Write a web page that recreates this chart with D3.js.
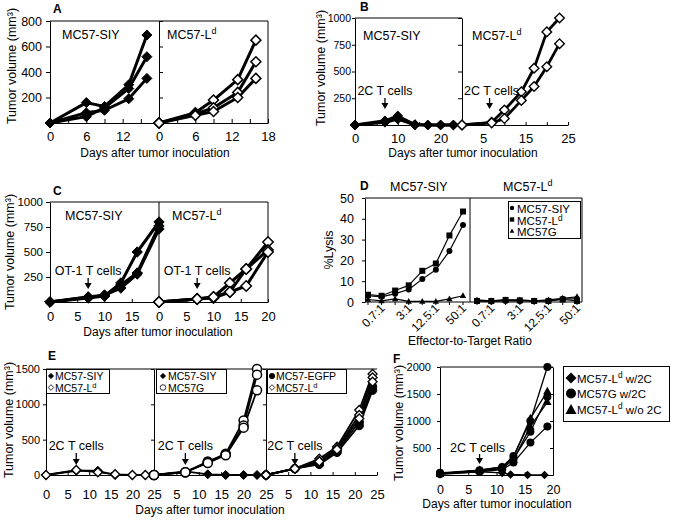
<!DOCTYPE html>
<html><head><meta charset="utf-8">
<script src="https://cdn.jsdelivr.net/npm/d3@7"></script>
<style>
body{margin:0;background:#fff;}
svg{display:block;}
</style></head><body>
<svg id="c" width="684" height="520"></svg>
<script>
// ================= DATA =================
// Panel A
const aDays = [0, 6, 9, 13, 16];
const aSIY = [[0,160,130,300,690],[0,50,120,270,520],[0,80,100,190,350]];
const aLd  = [[0,80,180,340,650],[0,70,120,240,480],[0,60,90,200,350]];
const aYTicks = [200,400,600,800];
const aXLabelsLeft = [0,6,12];
const aXLabelsRight = [0,6,12,18];
// Panel B
const bDays = [0,7,10,14,17,20,23];
const bSIY = [[0,40,85,5,0,0,0],[0,25,55,0,0,0,0]];
const bLd  = [[0,25,140,310,530,870,1000],[0,20,60,230,360,545,760]];
const bYTicks = [250,500,750,1000];
const bXLabelsLeft = [0,10,20];
const bXLabelsRight = [5,15,25];
const bArrowDays = [7, 6.5];
// Panel C
const cDays = [0,7,10,13,16,20];
const cSIY = [[0,50,60,190,500,800],[0,50,70,140,280,730],[0,40,60,170,290,760]];
const cLd  = [[0,30,50,190,330,600],[0,30,40,100,330,520],[0,30,50,100,160,500]];
const cYTicks = [250,500,750,1000];
const cXLabelsLeft = [0,5,10,15];
const cXLabelsRight = [0,5,10,15,20];
const cArrowDays = [7, 7];
// Panel D
const dRatios = ["0.35:1","0.7:1","1.5:1","3:1","6.25:1","12.5:1","25:1","50:1"];
const dRatioLabels = ["0.7:1","3:1","12.5:1","50:1"];
const dLeftSIY = [3,2.5,4,6,11,15.5,24.5,37];
const dLeftLd  = [3.5,3,5.5,8,15,18.5,32,43.5];
const dLeftG   = [1.2,0.5,1.5,0.3,0.3,0.3,1.5,3];
const dRightSIY = [0.5,0.3,0.5,0.5,0.5,0.5,1.5,1.5];
const dRightLd  = [0.5,0.5,1,0.8,0.5,0.5,1.2,0.5];
const dRightG   = [1,0.5,1,1,0.5,1,1.8,2.5];
const dYTicks = [0,10,20,30,40,50];
// Panel E
const eDays1 = [0,7,12,16,20,23];
const eSIY1 = [0,60,60,0,0,0];
const eLd1  = [0,70,40,10,0,0];
const eDays2 = [0,7,12,16,20,23];
const eSIY2 = [0,50,10,0,0,0];
const eG2 = [[0,40,190,300,770,1500],[0,40,180,290,700,1420],[0,40,170,280,670,1200]];
const eDays3 = [0,6.5,12,16,21,24];
const eEGFP3 = [[0,90,150,320,700,1200],[0,90,160,340,750,1250]];
const eLd3 = [[0,90,230,400,920,1430],[0,90,200,380,850,1380],[0,90,190,360,800,1320]];
const eYTicks = [0,500,1000,1500];
const eXLabels1 = [0,5,10,15,20,25];
const eXLabels23 = [5,10,15,20,25];
const eArrowDays = [7, 7, 6.5];
// Panel F
const fDays = [0,7,11,13,16,19];
const fDiamondDays = [0,7,11,12.5,15.5,18.5];
const fLdW2C = [10,60,40,10,0,0];
const fGW2C = [[40,90,150,350,1000,2000],[30,80,120,300,800,1450],[20,60,100,230,600,900]];
const fLdWo2C = [[20,90,150,330,1050,1550],[30,80,130,280,900,1350]];
const fYTicks = [0,500,1000,1500,2000];
const fXLabels = [0,5,10,15,20];
const fArrowDay = 7;

// ================= DRAWING =================
const FONT = '"Liberation Sans", Arial, Helvetica, sans-serif';
const svg = d3.select('#c').attr('font-family', FONT);
const plain = d => String(d);

function shapePath(shape, r){
  switch(shape){
    case 'diamond': return `M0,${-r}L${r},0L0,${r}L${-r},0Z`;
    case 'circle': return `M${r},0A${r},${r} 0 1,1 ${-r},0A${r},${r} 0 1,1 ${r},0Z`;
    case 'square': return `M${-r},${-r}H${r}V${r}H${-r}Z`;
    case 'triangle': return `M0,${-r*1.15}L${r*1.05},${r*0.75}L${-r*1.05},${r*0.75}Z`;
  }
}
function drawLines(x, y, xs, list, lw){
  const line = d3.line().x((d,i)=>x(xs[i])).y(d=>y(d));
  list.forEach(vals => svg.append('path').attr('d', line(vals)).attr('fill','none')
    .attr('stroke','#000').attr('stroke-width',lw).attr('stroke-linejoin','round'));
}
function drawMarks(x, y, xs, list, shape, r, fill, sw){
  list.forEach(vals => svg.append('g').selectAll('path').data(vals).join('path')
    .attr('transform',(d,i)=>`translate(${x(xs[i])},${y(d)})`)
    .attr('d', shapePath(shape,r)).attr('fill',fill).attr('stroke','#000').attr('stroke-width',sw));
}
function hline(x1,x2,y,w=1){ svg.append('line').attr('x1',x1).attr('x2',x2).attr('y1',y).attr('y2',y).attr('stroke','#000').attr('stroke-width',w); }
function vline(x,y1,y2,w=1){ svg.append('line').attr('x1',x).attr('x2',x).attr('y1',y1).attr('y2',y2).attr('stroke','#000').attr('stroke-width',w); }
function axisG(gen, tx, ty, fs){
  const g = svg.append('g').attr('transform',`translate(${tx},${ty})`).call(gen);
  g.attr('font-family',FONT).attr('font-size',fs||12);
  g.selectAll('.tick text').attr('fill','#000');
  g.selectAll('line,path').attr('stroke','#000');
  return g;
}
function txt(x,y,s,fs,anchor,bold){
  return svg.append('text').attr('x',x).attr('y',y).attr('font-size',fs||12)
    .attr('text-anchor',anchor||'start').attr('font-weight',bold?'bold':null).attr('fill','#000').text(s);
}
function supText(x,y,base,sup,rest,fs,anchor,up){
  const u = up || 5;
  const t = svg.append('text').attr('x',x).attr('y',y).attr('font-size',fs||12).attr('text-anchor',anchor||'start').attr('fill','#000');
  t.append('tspan').text(base);
  t.append('tspan').attr('dy',-u).attr('font-size','0.72em').text(sup);
  if(rest) t.append('tspan').attr('dy',u).text(rest);
  return t;
}
function yLabel(x,y,s,fs){
  svg.append('text').attr('transform',`translate(${x},${y}) rotate(-90)`).attr('text-anchor','middle')
    .attr('font-size',fs||12.5).attr('fill','#000').text(s);
}
function arrow(x,y1,y2){
  svg.append('line').attr('x1',x).attr('x2',x).attr('y1',y1).attr('y2',y2-5).attr('stroke','#000').attr('stroke-width',1.3);
  svg.append('path').attr('d',`M${x-3.5},${y2-6}L${x+3.5},${y2-6}L${x},${y2}Z`).attr('fill','#000');
}
function legendMark(x,y,shape,r,fill,sw){
  svg.append('path').attr('transform',`translate(${x},${y})`).attr('d',shapePath(shape,r)).attr('fill',fill).attr('stroke','#000').attr('stroke-width',sw);
}
const fmtOnly = list => d => list.includes(d) ? String(d) : '';

// ---------- Panel A ----------
{
  const y = d3.scaleLinear([0,800],[123,21]);
  const x1 = d3.scaleLinear([0,18],[50,159]);
  const x2 = d3.scaleLinear([0,18],[159,268]);
  axisG(d3.axisLeft(y).tickValues(aYTicks).tickFormat(plain).tickSize(4).tickPadding(4).tickSizeOuter(0),50,0,12.5);
  axisG(d3.axisLeft(y).tickValues(aYTicks).tickSize(-4).tickFormat('').tickSizeOuter(0),159,0);
  hline(50,268,21); vline(268,21,123);
  axisG(d3.axisBottom(x1).tickValues(d3.range(0,16,3)).tickSize(-4).tickPadding(9).tickSizeOuter(0).tickFormat(fmtOnly(aXLabelsLeft)),0,123,13);
  axisG(d3.axisBottom(x2).tickValues(d3.range(0,19,3)).tickSize(-4).tickPadding(9).tickSizeOuter(0).tickFormat(fmtOnly(aXLabelsRight)),0,123,13);
  drawLines(x1,y,aDays,aSIY,3);
  drawLines(x2,y,aDays,aLd,3);
  drawMarks(x1,y,aDays,aSIY,'diamond',5,'#000',1);
  drawMarks(x2,y,aDays,aLd,'diamond',5,'#fff',1.5);
  txt(53,13,'A',12,'start',true);
  txt(62,39,'MC57-SIY',12.5);
  supText(167,39,'MC57-L','d',null,12.5);
  yLabel(16,66,'Tumor volume (mm³)');
  txt(155,157,'Days after tumor inoculation',12,'middle');
}
// ---------- Panel B ----------
{
  const y = d3.scaleLinear([0,1000],[125,18]);
  const x1 = d3.scaleLinear([0,25],[355,462]);
  const x2 = d3.scaleLinear([0,25],[462,568]);
  axisG(d3.axisLeft(y).tickValues(bYTicks).tickFormat(plain).tickSize(3).tickPadding(1).tickSizeOuter(0),355,0,10.5);
  axisG(d3.axisLeft(y).tickValues(bYTicks).tickSize(4).tickFormat('').tickSizeOuter(0),462,0);
  hline(355,462,18);
  axisG(d3.axisBottom(x1).tickValues(d3.range(0,25,5)).tickSize(-3).tickPadding(9).tickSizeOuter(0).tickFormat(fmtOnly(bXLabelsLeft)),0,125,13);
  axisG(d3.axisBottom(x2).tickValues(d3.range(0,26,5)).tickSize(-3).tickPadding(9).tickSizeOuter(0).tickFormat(fmtOnly(bXLabelsRight)),0,125,13);
  drawLines(x1,y,bDays,bSIY,2.8);
  drawLines(x2,y,bDays,bLd,2.8);
  drawMarks(x1,y,bDays,bSIY,'diamond',4.8,'#000',1);
  drawMarks(x2,y,bDays,bLd,'diamond',4.8,'#fff',1.4);
  txt(360,11,'B',12,'start',true);
  txt(363,40,'MC57-SIY',12.5);
  supText(472,40,'MC57-L','d',null,12.5);
  txt(x1(bArrowDays[0]),95,'2C T cells',12.5,'middle');
  arrow(x1(bArrowDays[0]),98,109);
  txt(x2(bArrowDays[1])+2,95,'2C T cells',12.5,'middle');
  arrow(x2(bArrowDays[1]),98,109);
  yLabel(325,68,'Tumor volume (mm³)');
  txt(463,157,'Days after tumor inoculation',12,'middle');
}
// ---------- Panel C ----------
{
  const y = d3.scaleLinear([0,1000],[302,202]);
  const x1 = d3.scaleLinear([0,20],[50,159]);
  const x2 = d3.scaleLinear([0,20],[159,268]);
  axisG(d3.axisLeft(y).tickValues(cYTicks).tickFormat(plain).tickSize(4).tickPadding(3).tickSizeOuter(0),50,0,11.5);
  vline(159,202,302);
  hline(50,268,202); vline(268,202,302);
  axisG(d3.axisBottom(x1).tickValues(d3.range(0,20,5)).tickSize(-3).tickPadding(10).tickSizeOuter(0).tickFormat(fmtOnly(cXLabelsLeft)),0,302,13);
  axisG(d3.axisBottom(x2).tickValues(d3.range(0,21,5)).tickSize(-3).tickPadding(10).tickSizeOuter(0).tickFormat(fmtOnly(cXLabelsRight)),0,302,13);
  drawLines(x1,y,cDays,cSIY,3);
  drawLines(x2,y,cDays,cLd,3);
  drawMarks(x1,y,cDays,cSIY,'diamond',5.2,'#000',1);
  drawMarks(x2,y,cDays,cLd,'diamond',5.2,'#fff',1.5);
  txt(53,195,'C',12,'start',true);
  txt(65,220,'MC57-SIY',12.5);
  supText(172,220,'MC57-L','d',null,12.5);
  txt(x1(cArrowDays[0]),275,'OT-1 T cells',12.5,'middle');
  arrow(x1(cArrowDays[0]),278,289);
  txt(x2(cArrowDays[1]),275,'OT-1 T cells',12.5,'middle');
  arrow(x2(cArrowDays[1]),278,289);
  yLabel(14,252,'Tumor volume (mm³)');
  txt(158,336,'Days after tumor inoculation',12,'middle');
}
// ---------- Panel D ----------
{
  const y = d3.scaleLinear([0,50],[302,198]);
  const x1 = d3.scalePoint(dRatios,[368,463]);
  const x2 = d3.scalePoint(dRatios,[477,577]);
  axisG(d3.axisLeft(y).tickValues(dYTicks).tickFormat(plain).tickSize(3).tickPadding(8).tickSizeOuter(0),365,0,12.5);
  vline(470,198,302);
  hline(365,582,198); vline(582,198,302); hline(365,582,302);
  [x1,x2].forEach(x => {
    svg.append('g').selectAll('line').data(dRatios).join('line')
      .attr('x1',d=>x(d)).attr('x2',d=>x(d)).attr('y1',302).attr('y2',305).attr('stroke','#000');
    dRatioLabels.forEach(l => {
      svg.append('text').attr('transform',`translate(${x(l)+4},${309}) rotate(-45)`)
        .attr('text-anchor','end').attr('font-size',12).attr('fill','#000').text(l);
    });
  });
  drawLines(x1,y,dRatios,[dLeftSIY,dLeftLd,dLeftG],1.2);
  drawLines(x2,y,dRatios,[dRightSIY,dRightLd,dRightG],1.2);
  drawMarks(x1,y,dRatios,[dLeftSIY],'circle',3,'#000',0);
  drawMarks(x1,y,dRatios,[dLeftLd],'square',3,'#000',0);
  drawMarks(x1,y,dRatios,[dLeftG],'triangle',3,'#000',0);
  drawMarks(x2,y,dRatios,[dRightSIY],'circle',3,'#000',0);
  drawMarks(x2,y,dRatios,[dRightLd],'square',3,'#000',0);
  drawMarks(x2,y,dRatios,[dRightG],'triangle',3,'#000',0);
  // legend
  svg.append('rect').attr('x',508.5).attr('y',201.5).attr('width',72).attr('height',37).attr('fill','#fff').attr('stroke','#000');
  legendMark(512,208,'circle',2.2,'#000',0); txt(517,212.5,'MC57-SIY',11.5);
  legendMark(512,219.5,'square',2.2,'#000',0); supText(517,224.5,'MC57-L','d',null,11.5,'start',4);
  legendMark(512,231,'triangle',2.2,'#000',0); txt(517,236,'MC57G',11.5);
  txt(360,190,'D',12,'start',true);
  txt(390,191,'MC57-SIY',12.5);
  supText(503,191,'MC57-L','d',null,12.5);
  yLabel(333,250,'%Lysis',12.5);
  txt(470,345,'Effector-to-Target Ratio',12,'middle');
}
// ---------- Panel E ----------
{
  const y = d3.scaleLinear([0,1500],[475,369]);
  const x1 = d3.scaleLinear([0,25],[46,154]);
  const x2 = d3.scaleLinear([0,25],[154,266]);
  const x3 = d3.scaleLinear([0,25],[266,377]);
  axisG(d3.axisLeft(y).tickValues(eYTicks).tickFormat(plain).tickSize(3).tickPadding(3).tickSizeOuter(0),46,0,11);
  axisG(d3.axisLeft(y).tickValues(eYTicks).tickSize(3).tickFormat('').tickSizeOuter(0),154,0);
  axisG(d3.axisLeft(y).tickValues(eYTicks).tickSize(3).tickFormat('').tickSizeOuter(0),266,0);
  hline(46,377,369);
  axisG(d3.axisBottom(x1).tickValues(d3.range(0,26,5)).tickSize(-3).tickPadding(15).tickSizeOuter(0).tickFormat(fmtOnly(eXLabels1)),0,475,13);
  axisG(d3.axisBottom(x2).tickValues(d3.range(5,26,5)).tickSize(-3).tickPadding(15).tickSizeOuter(0).tickFormat(fmtOnly(eXLabels23)),0,475,13);
  axisG(d3.axisBottom(x3).tickValues(d3.range(5,26,5)).tickSize(-3).tickPadding(15).tickSizeOuter(0).tickFormat(fmtOnly(eXLabels23)),0,475,13);
  drawLines(x1,y,eDays1,[eSIY1,eLd1],1.8);
  drawLines(x2,y,eDays2,[eSIY2],1.8);
  drawLines(x2,y,eDays2,eG2,1.8);
  drawLines(x3,y,eDays3,eEGFP3,1.8);
  drawLines(x3,y,eDays3,eLd3,1.8);
  drawMarks(x1,y,eDays1,[eSIY1],'diamond',4.5,'#000',1);
  drawMarks(x1,y,eDays1,[eLd1],'diamond',4.5,'#fff',1.4);
  drawMarks(x2,y,eDays2,[eSIY2],'diamond',4.5,'#000',1);
  drawMarks(x2,y,eDays2,eG2,'circle',4.5,'#fff',1.5);
  drawMarks(x3,y,eDays3,eEGFP3,'circle',4.2,'#000',1);
  drawMarks(x3,y,eDays3,eLd3,'diamond',4.5,'#fff',1.3);
  // legends
  svg.append('rect').attr('x',46.5).attr('y',369.5).attr('width',63).attr('height',24).attr('fill','#fff').attr('stroke','#000');
  legendMark(51,376,'diamond',2.8,'#000',0.5); txt(55,379.5,'MC57-SIY',10.5);
  legendMark(51,387.5,'diamond',2.8,'#fff',0.8); supText(55,391.5,'MC57-L','d',null,10.5,'start',3.5);
  svg.append('rect').attr('x',156.5).attr('y',369.5).attr('width',70).attr('height',24).attr('fill','#fff').attr('stroke','#000');
  legendMark(163,376,'diamond',2.8,'#000',0.5); txt(168,379.5,'MC57-SIY',10.5);
  legendMark(163,387.5,'circle',2.8,'#fff',0.8); txt(168,391.5,'MC57G',10.5);
  svg.append('rect').attr('x',267.5).attr('y',369.5).attr('width',79).attr('height',24).attr('fill','#fff').attr('stroke','#000');
  legendMark(272,376,'circle',3,'#000',0); txt(276,379.5,'MC57-EGFP',10.5);
  legendMark(272,387.5,'diamond',2.8,'#fff',0.8); supText(276,391.5,'MC57-L','d',null,10.5,'start',3.5);
  // annotations
  [[x1,eArrowDays[0]],[x2,eArrowDays[1]],[x3,eArrowDays[2]]].forEach(([x,d]) => {
    txt(x(d),450,'2C T cells',12.5,'middle');
    arrow(x(d),453,465);
  });
  txt(48,360,'E',12,'start',true);
  yLabel(13,420,'Tumor volume (mm³)');
  txt(210,514,'Days after tumor inoculation',12,'middle');
}
// ---------- Panel F ----------
{
  const y = d3.scaleLinear([0,2000],[475,367]);
  const x = d3.scaleLinear([0,20],[440,553]);
  axisG(d3.axisLeft(y).tickValues(fYTicks).tickSize(3).tickPadding(6).tickSizeOuter(0).tickFormat(d=>d===0?'':String(d)),440,0,11);
  axisG(d3.axisLeft(y).tickValues(fYTicks).tickSize(3).tickFormat('').tickSizeOuter(0),553,0);
  hline(440,553,367);
  axisG(d3.axisBottom(x).tickValues(d3.range(0,21,5)).tickSize(-3).tickPadding(10).tickSizeOuter(0).tickFormat(fmtOnly(fXLabels)),0,475,12.5);
  drawLines(x,y,fDays,fGW2C,1.3);
  drawLines(x,y,fDays,fLdWo2C,1.3);
  drawLines(x,y,fDiamondDays,[fLdW2C],1.3);
  drawMarks(x,y,fDiamondDays,[fLdW2C],'diamond',4.3,'#000',0);
  drawMarks(x,y,fDays,fLdWo2C,'triangle',4,'#000',0);
  drawMarks(x,y,fDays,fGW2C,'circle',4,'#000',0);
  txt(x(fArrowDay)-2,452,'2C T cells',12.5,'middle');
  arrow(x(fArrowDay),454,464);
  // legend
  svg.append('rect').attr('x',563.5).attr('y',366.5).attr('width',106).attr('height',55).attr('fill','#fff').attr('stroke','#000');
  legendMark(571,378,'diamond',5.5,'#000',0); supText(577,382.5,'MC57-L','d',' w/2C',11.5);
  legendMark(571,393.5,'circle',5,'#000',0); txt(577,397.5,'MC57G w/2C',11.5);
  legendMark(571,410,'triangle',5.3,'#000',0); supText(577,414,'MC57-L','d',' w/o 2C',11.5);
  txt(393,363,'F',12,'start',true);
  yLabel(403,423,'Tumor volume (mm³)');
  txt(497,508,'Days after tumor inoculation',12,'middle');
}
</script>
</body></html>
